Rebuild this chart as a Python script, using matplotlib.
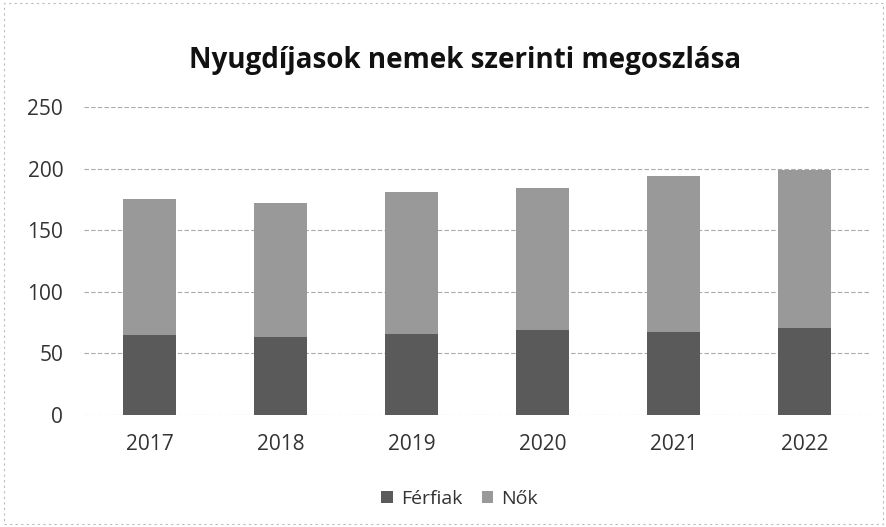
import matplotlib.pyplot as plt
import numpy as np

years = ['2017', '2018', '2019', '2020', '2021', '2022']
ferfiak = [65, 63.5, 66, 69, 67.5, 70.5]
osszes = [175, 172, 181, 184, 194, 199]
nok = [t - f for t, f in zip(osszes, ferfiak)]

plt.rcParams['font.family'] = ['Open Sans', 'DejaVu Sans']

fig = plt.figure(figsize=(8.87, 5.27), dpi=100)
ax = fig.add_axes([0.0947, 0.2125, 0.886, 0.5845])

x = np.arange(len(years))
ax.bar(x, ferfiak, width=0.4, color='#5a5a5a', label='Férfiak', zorder=2)
ax.bar(x, nok, width=0.4, bottom=ferfiak, color='#999999', label='Nők', zorder=2)

ax.set_ylim(0, 250)
ax.set_xlim(-0.5, len(years) - 0.5)
ax.set_yticks([0, 50, 100, 150, 200, 250])
ax.set_xticks(x)
ax.set_xticklabels(years)
ax.tick_params(axis='both', length=0, labelsize=15, colors='#333333')
ax.tick_params(axis='y', pad=15)
ax.tick_params(axis='x', pad=14)
ax.yaxis.grid(True, color='#aaaaaa', linewidth=0.8, linestyle=(0, (4, 2)))
ax.set_axisbelow(True)
for s in ax.spines.values():
    s.set_visible(False)

fig.text(0.524, 0.886, 'Nyugdíjasok nemek szerinti megoszlása',
         ha='center', va='center', fontsize=20, fontweight='bold', color='#111111')

fig.legend(loc='center', bbox_to_anchor=(0.518, 0.053), ncol=2, frameon=False,
           fontsize=14, handlelength=0.6, handleheight=0.6, columnspacing=1.0,
           handletextpad=0.4, labelcolor='#333333')

fig.patches.append(plt.Rectangle((0.005, 0.005), 0.99, 0.99, transform=fig.transFigure,
                                 fill=False, edgecolor='#bbbbbb', linewidth=0.8,
                                 linestyle=(0, (2, 3))))

fig.savefig('out.png', dpi=100)
